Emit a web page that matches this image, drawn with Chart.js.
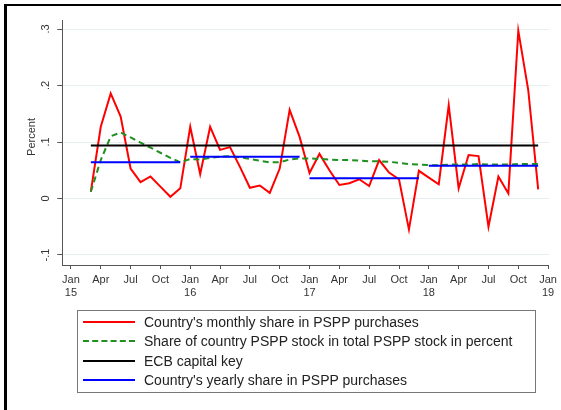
<!DOCTYPE html>
<html>
<head>
<meta charset="utf-8">
<script src="https://cdn.jsdelivr.net/npm/chart.js@4.4.1/dist/chart.umd.min.js"></script>
<style>
  html, body { margin: 0; padding: 0; background: #fff; overflow: hidden; }
  #wrap { position: relative; width: 561px; height: 410px; }
  #frame { position: absolute; left: 4px; top: 4px; width: 600px; height: 500px;
           border-left: 3px solid #000; border-top: 2px solid #000; }
  canvas { position: absolute; left: 0; top: 0; }
  #legend { position: absolute; left: 77px; top: 310px; width: 457px; height: 81px;
            border: 1.5px solid #777; font-family: "Liberation Sans", Arial, sans-serif;
            font-size: 14px; color: #222; }
  .row { position: absolute; left: 0; height: 16px; }
  .row .ln { position: absolute; left: 5px; top: 7px; width: 52px; height: 0; }
  .row .tx { position: absolute; left: 66px; top: 0; white-space: nowrap; line-height: 16px; }
</style>
</head>
<body>
<div id="wrap">
  <div id="frame"></div>
  <canvas id="chart" width="561" height="410"></canvas>
  <div id="legend"></div>
</div>
<script>
// months counted from Jan 2015 (0) ; series start in Mar 2015
const firstMonth = 2;

// Country's monthly share in PSPP purchases (Mar 2015 .. Dec 2018)
const monthlyShare = [
  0.012, 0.127, 0.186, 0.145, 0.053, 0.029, 0.039, 0.021, 0.003, 0.018,
  0.127, 0.043, 0.127, 0.086, 0.091, 0.056, 0.019, 0.023, 0.010, 0.053, 0.157, 0.109,
  0.045, 0.079, 0.050, 0.024, 0.027, 0.034, 0.022, 0.068, 0.046, 0.034, -0.055, 0.049,
  0.037, 0.025, 0.165, 0.018, 0.077, 0.075, -0.050, 0.039, 0.009, 0.297, 0.192, 0.016
];

// Share of country PSPP stock in total PSPP stock
const stockShare = [
  0.012, 0.068, 0.110, 0.117, 0.108, 0.099, 0.090, 0.081, 0.072, 0.064,
  0.070, 0.069, 0.072, 0.074, 0.075, 0.073, 0.070, 0.067, 0.064, 0.064, 0.069, 0.071,
  0.071, 0.070, 0.069, 0.068, 0.068, 0.067, 0.066, 0.066, 0.065, 0.063, 0.061, 0.060,
  0.059, 0.059, 0.060, 0.060, 0.060, 0.061, 0.060, 0.060, 0.060, 0.061, 0.061, 0.061
];

const capitalKey = 0.094;

// yearly share, one value per year with its first and last month
const yearlyShare = [0.064, 0.074, 0.036, 0.058];
const yearStart = [2, 12, 24, 36];
const yearEnd = [11, 23, 35, 47];

const tickMonths = [0, 3, 6, 9, 12, 15, 18, 21, 24, 27, 30, 33, 36, 39, 42, 45, 48];
const quarterNames = ['Jan', 'Apr', 'Jul', 'Oct'];
const yearLabels = ['15', '16', '17', '18', '19'];

const yTicks = [-0.1, 0, 0.1, 0.2, 0.3];
const yTickLabels = ['-.1', '0', '.1', '.2', '.3'];

const seriesNames = [
  "Country's monthly share in PSPP purchases",
  "Share of country PSPP stock in total PSPP stock in percent",
  'ECB capital key',
  "Country's yearly share in PSPP purchases"
];
const seriesColors = ['#ff0000', '#1f8f1f', '#000000', '#0000ff'];

const FONT = '"Liberation Sans", Arial, sans-serif';

const monthlyPts = monthlyShare.map((v, i) => ({ x: firstMonth + i, y: v }));
const stockPts = stockShare.map((v, i) => ({ x: firstMonth + i, y: v }));
const keyPts = [{ x: firstMonth, y: capitalKey }, { x: firstMonth + monthlyShare.length - 1, y: capitalKey }];
const yearlyPts = [];
yearlyShare.forEach((v, i) => {
  if (i > 0) yearlyPts.push({ x: yearStart[i] - 0.5, y: null });
  yearlyPts.push({ x: yearStart[i], y: v });
  yearlyPts.push({ x: yearEnd[i], y: v });
});

// rotated y tick labels and axis title
const yLabelPlugin = {
  id: 'yLabels',
  afterDraw(chart) {
    const ctx = chart.ctx;
    const y = chart.scales.y;
    ctx.save();
    ctx.font = '11px ' + FONT;
    ctx.fillStyle = '#333';
    ctx.textAlign = 'center';
    ctx.textBaseline = 'middle';
    yTicks.forEach((v, i) => {
      ctx.save();
      ctx.translate(46, y.getPixelForValue(v));
      ctx.rotate(-Math.PI / 2);
      ctx.fillText(yTickLabels[i], 0, 0);
      ctx.restore();
    });
    ctx.translate(32, 137);
    ctx.rotate(-Math.PI / 2);
    ctx.fillText('Percent', 0, 0);
    ctx.restore();
  }
};

const ctx = document.getElementById('chart').getContext('2d');
new Chart(ctx, {
  type: 'line',
  data: {
    datasets: [
      { label: seriesNames[0], data: monthlyPts, borderColor: seriesColors[0], borderWidth: 2, order: 4 },
      { label: seriesNames[1], data: stockPts, borderColor: seriesColors[1], borderWidth: 2, borderDash: [6, 4], order: 3 },
      { label: seriesNames[2], data: keyPts, borderColor: seriesColors[2], borderWidth: 2, order: 2 },
      { label: seriesNames[3], data: yearlyPts, borderColor: seriesColors[3], borderWidth: 2, spanGaps: false, order: 1 }
    ]
  },
  options: {
    responsive: false,
    animation: false,
    devicePixelRatio: 1,
    elements: { point: { radius: 0 }, line: { tension: 0, fill: false } },
    layout: { padding: { left: 0, right: 9.3, top: 20.7, bottom: 0 } },
    plugins: { legend: { display: false }, tooltip: { enabled: false } },
    scales: {
      x: {
        type: 'linear',
        min: -0.87,
        max: 48.07,
        afterBuildTicks: (scale) => { scale.ticks = tickMonths.map(v => ({ value: v })); },
        afterFit: (scale) => { scale.height = 145; },
        ticks: {
          autoSkip: false,
          maxRotation: 0,
          minRotation: 0,
          padding: 4,
          color: '#333',
          font: { family: FONT, size: 11 },
          callback: (value) => {
            const q = quarterNames[(value / 3) % 4];
            return value % 12 === 0 ? [q, yearLabels[value / 12]] : q;
          }
        },
        grid: { drawOnChartArea: false, tickLength: 4, tickColor: '#555', color: '#555' },
        border: { display: true, color: '#555', width: 1 }
      },
      y: {
        min: -0.1177,
        max: 0.3147,
        afterBuildTicks: (scale) => { scale.ticks = yTicks.map(v => ({ value: v })); },
        afterFit: (scale) => { scale.width = 62.3; },
        ticks: { callback: () => '', padding: 0 },
        grid: { color: '#e6eef0', lineWidth: 1, tickLength: 5, tickColor: '#555' },
        border: { display: true, color: '#555', width: 1 }
      }
    }
  },
  plugins: [yLabelPlugin]
});

// legend box
const legend = document.getElementById('legend');
const rowTops = [2.5, 22, 41.5, 61];
seriesNames.forEach((name, i) => {
  const row = document.createElement('div');
  row.className = 'row';
  row.style.top = rowTops[i] + 'px';
  const ln = document.createElement('div');
  ln.className = 'ln';
  ln.style.borderTop = '2px ' + (i === 1 ? 'dashed ' : 'solid ') + seriesColors[i];
  const tx = document.createElement('div');
  tx.className = 'tx';
  tx.textContent = name;
  row.appendChild(ln);
  row.appendChild(tx);
  legend.appendChild(row);
});
</script>
</body>
</html>
